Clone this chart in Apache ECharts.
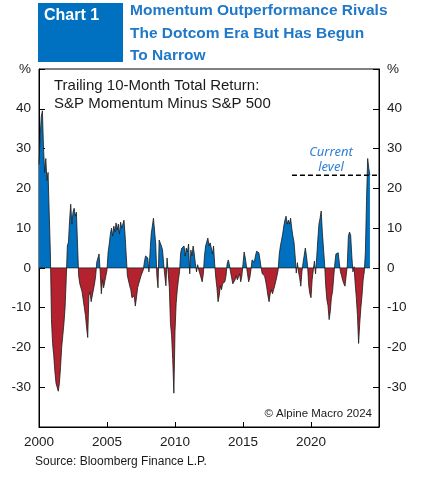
<!DOCTYPE html>
<html lang="en">
<head>
<meta charset="UTF-8">
<title>Momentum Outperformance Rivals The Dotcom Era</title>
<style>
    html, body { margin: 0; padding: 0; background: #fff; }
    #chart { width: 422px; height: 482px; }
</style>
</head>
<body>
<div id="chart"></div>
<script src="https://cdn.jsdelivr.net/npm/echarts@6/dist/echarts.min.js"></script>
<script>
// monthly values, Jan 2000 onwards (% , momentum minus S&P 500, trailing 10m)
const startYear = 2000;
const returnValues = [
    26, 33, 38, 39.5, 30, 24, 27.5, 22, 24, 14, 4,
    -13, -19, -22, -26, -29, -30, -31, -29, -25, -20, -17, -14, -10, -3,
    5.5, 6.5, 12, 16, 11, 14, 15, 13, 14, 6, -2,
    -4, -3.5, -6, -8, -10, -12, -15, -17.5, -7, -6, -8.5, -7, -6.5, -4, -2, 1.5, 2.5, 3.5,
    -1, -6.5, -3, -5, -3.5, -2, -0.5,
    4, 6, 8.5, 10, 8, 10.5, 9, 11.3, 9.5, 11, 8.5, 11.5, 10, 11, 12, 8, 3,
    -2, -1.5, -4.5, -5.5, -7.5, -8, -7, -9.6, -7.5, -5, -4, -3, -2, -1.5, -0.5,
    1.5, 3, 3.5, 2.5, -1, 4, 8.5, 10.5, 12.5, 13,
    6, -2, -5, 7, 6.5, 5.5, 4.5, 1, -2, -4.5,
    2.5, 3, -5, -14, -17, -23, -31.5, -16, -9, -5.5, -3, -1,
    3.8, 5, 4.5, 5.5, 3, 5, 4, 6, -1.5, 4.5, 3, 5.5, 3.5,
    1, -1, 0.8, -0.5, -1.5, -2, -3.5, -1.5,
    3, 5.5, 6.5, 7.5, 5.5, 6.3, 5, 3.5, 5.5, 1,
    -2.5, -5, -8.5, -7, -4.5, -5.5, -4, -4.5, -3.5, -2,
    1, 2, 0.8,
    -1, -2.5, -4, -4.5, -3, -2, -3, -2.5, -1.5, -3.5, -2,
    1, 4, 2.5, 0.5,
    -1.5, -3.5, -2.5, -0.5,
    2, 2.5, 1.5, 3, 4.2, 4, 3.8, 2,
    0, -1.5, -1.8, -2, -3.3, -5, -7, -8.5, -6.5, -5.5, -6.5, -5.5, -4.5, -4, -2, -0.5,
    3.5, 5.5, 7, 8.5, 10.5, 12, 13, 11, 12, 11, 12.5, 10, 8, 6.5, 3,
    -1.3, 1.3, -1, -2.5, -4.6, -1, 1.3, 1.5, 5, 3, 0.5,
    -4.5, -6.5, -7.5, -3, -0.5, 1.7, -1.5,
    2.5, 7, 11, 12.5, 14.3, 9, 5, 1,
    -4.5, -8, -9.5, -13, -11, -7.5, -6, -2.5,
    1, 3.5, 4, 3.8, 1.2,
    -1, -2, -3.2, -4, -4.6, -2,
    0.5, 8, 9, 8.2, 3,
    -1, 0.3, -4, -7.5, -12, -19, -14, -10, -7, -3, -1,
    4, 17, 27.5, 25, 23.3
];
const yearLabels = [2000, 2005, 2010, 2015, 2020];
const pctLabels = [-30, -20, -10, 0, 10, 20, 30, 40];
const currentLevel = 23.3;
const currentLevelFrom = 2018.6;
const axisEnd = 2025;

const BLUE = '#0070C0';
const RED = '#B3222E';
const TXT = '#1a1a1a';

const seriesData = returnValues.map((v, i) => [startYear + i / 12, v]);
const lastX = seriesData[seriesData.length - 1][0];

function pctFormatter(v) {
    if (v === 50) return '%';
    return pctLabels.includes(v) ? String(v) : '';
}

const chart = echarts.init(document.getElementById('chart'));

const yAxisBase = {
    type: 'value',
    min: -40,
    max: 50,
    interval: 10,
    splitLine: { show: false },
    axisLine: { show: true, onZero: false, lineStyle: { color: '#000', width: 1 } },
    axisTick: { show: true, inside: true, length: 6, lineStyle: { color: '#000' } },
    axisLabel: {
        formatter: pctFormatter,
        color: TXT,
        fontFamily: 'Liberation Sans, Arial, sans-serif',
        fontSize: 13.5,
        margin: 8
    }
};

const option = {
    animation: false,
    backgroundColor: '#fff',
    grid: {
        left: 39, right: 43, top: 69, bottom: 55,
        show: true, borderColor: '#000', borderWidth: 1,
        containLabel: false
    },
    xAxis: {
        type: 'value',
        min: 2000,
        max: axisEnd,
        interval: 5,
        splitLine: { show: false },
        axisLine: { show: true, onZero: false, lineStyle: { color: '#000' } },
        axisTick: { show: true, inside: true, length: 5, lineStyle: { color: '#000' } },
        axisLabel: {
            formatter: v => yearLabels.includes(v) ? String(v) : '',
            color: TXT,
            fontFamily: 'Liberation Sans, Arial, sans-serif',
            fontSize: 13.5,
            margin: 8
        }
    },
    yAxis: [
        Object.assign({ position: 'left' }, yAxisBase),
        Object.assign({ position: 'right' }, yAxisBase)
    ],
    visualMap: {
        type: 'piecewise',
        show: false,
        seriesIndex: 0,
        dimension: 1,
        pieces: [
            { gte: -100, lt: 0, color: RED },
            { gte: 0, lte: 100, color: BLUE }
        ]
    },
    series: [
        {
            type: 'line',
            data: seriesData,
            showSymbol: false,
            symbol: 'none',
            silent: true,
            z: 2,
            lineStyle: { color: '#1a1a1a', width: 0.8 },
            areaStyle: { opacity: 1, origin: 0 }
        },
        {
            // zero line
            type: 'line',
            data: [[startYear, 0], [lastX, 0]],
            showSymbol: false,
            symbol: 'none',
            silent: true,
            z: 3,
            lineStyle: { color: '#222', width: 0.8 }
        },
        {
            // current level marker
            type: 'line',
            data: [[currentLevelFrom, currentLevel], [axisEnd, currentLevel]],
            showSymbol: false,
            symbol: 'none',
            silent: true,
            z: 4,
            lineStyle: { color: '#000', width: 1.6, type: [5, 3] }
        }
    ],
    graphic: [
        { type: 'rect', shape: { x: 38, y: 3, width: 85, height: 59 }, style: { fill: BLUE } },
        { type: 'text', x: 44, y: 16, style: { text: 'Chart 1', fill: '#fff', font: 'bold 16px "Liberation Sans", Arial, sans-serif', verticalAlign: 'middle' } },
        { type: 'text', x: 130, y: 11, style: { text: 'Momentum Outperformance Rivals', fill: '#1F78C8', font: 'bold 15.5px "Liberation Sans", Arial, sans-serif', verticalAlign: 'middle' } },
        { type: 'text', x: 130, y: 33.5, style: { text: 'The Dotcom Era But Has Begun', fill: '#1F78C8', font: 'bold 15.5px "Liberation Sans", Arial, sans-serif', verticalAlign: 'middle' } },
        { type: 'text', x: 130, y: 56, style: { text: 'To Narrow', fill: '#1F78C8', font: 'bold 15.5px "Liberation Sans", Arial, sans-serif', verticalAlign: 'middle' } },
        { type: 'text', x: 54, y: 86, style: { text: 'Trailing 10-Month Total Return:', fill: TXT, font: '15px "Liberation Sans", Arial, sans-serif', verticalAlign: 'middle' } },
        { type: 'text', x: 54, y: 104, style: { text: 'S&P Momentum Minus S&P 500', fill: TXT, font: '15px "Liberation Sans", Arial, sans-serif', verticalAlign: 'middle' } },
        { type: 'text', x: 331, y: 152, style: { text: 'Current', fill: '#2E7FD6', font: 'italic 13px "Noto Sans", sans-serif', align: 'center', verticalAlign: 'middle' } },
        { type: 'text', x: 331, y: 167.5, style: { text: 'level', fill: '#2E7FD6', font: 'italic 13px "Noto Sans", sans-serif', align: 'center', verticalAlign: 'middle' } },
        { type: 'text', x: 372, y: 414, style: { text: '© Alpine Macro 2024', fill: TXT, font: '11.5px "Liberation Sans", Arial, sans-serif', align: 'right', verticalAlign: 'middle' } },
        { type: 'text', x: 35, y: 462, style: { text: 'Source: Bloomberg Finance L.P.', fill: TXT, font: '12px "Liberation Sans", Arial, sans-serif', verticalAlign: 'middle' } }
    ]
};

chart.setOption(option);
</script>
</body>
</html>
